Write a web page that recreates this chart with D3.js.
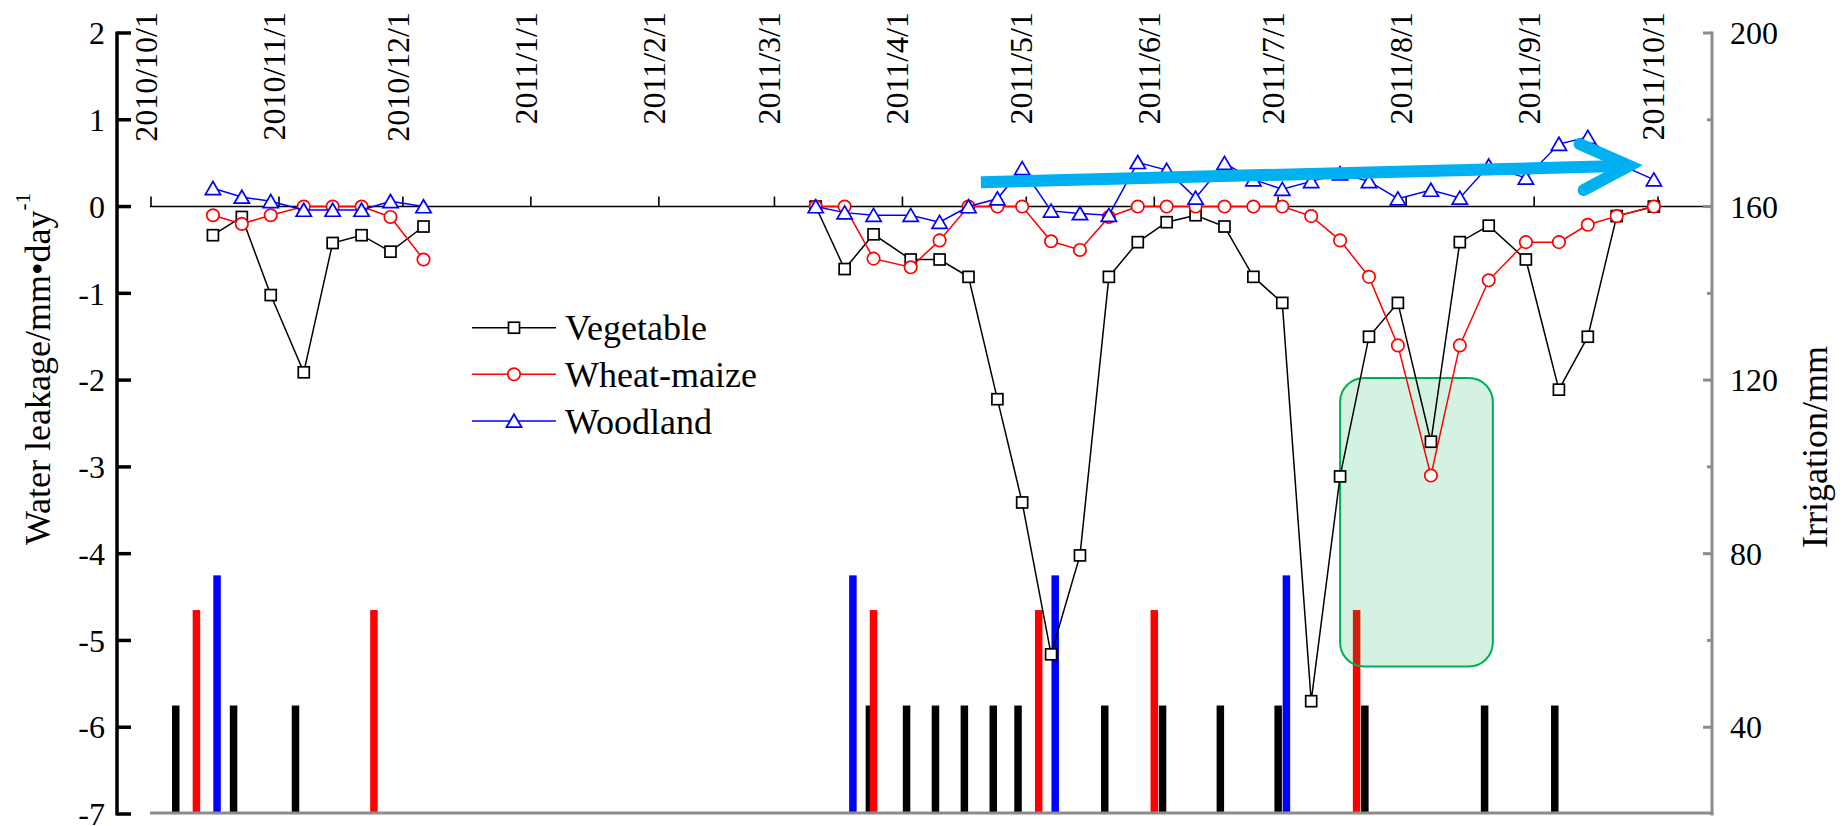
<!DOCTYPE html>
<html>
<head>
<meta charset="utf-8">
<script src="https://cdn.jsdelivr.net/npm/d3@7"></script>
<style>
  html, body { margin: 0; padding: 0; background: #fff; }
  svg { display: block; }
  text { font-family: "Liberation Serif", "Times New Roman", serif; fill: #000; }
</style>
</head>
<body>
<svg id="chart" width="1846" height="826"></svg>
<script>
// ---- data -------------------------------------------------------------
// Weekly sampling dates of the leakage measurements
const sampleDates = [
  "2010-10-16","2010-10-23","2010-10-30","2010-11-07","2010-11-14","2010-11-21","2010-11-28","2010-12-06",
  "2011-03-11","2011-03-18","2011-03-25","2011-04-03","2011-04-10","2011-04-17","2011-04-24","2011-04-30",
  "2011-05-07","2011-05-14","2011-05-21","2011-05-28","2011-06-04","2011-06-11","2011-06-18","2011-06-25",
  "2011-07-02","2011-07-09","2011-07-16","2011-07-23","2011-07-30","2011-08-07","2011-08-14","2011-08-21",
  "2011-08-30","2011-09-07","2011-09-14","2011-09-21","2011-09-30"
];

// Water leakage, mm/day
const vegetableLeak = [
  -0.33,-0.12,-1.02,-1.91,-0.42,-0.33,-0.52,-0.23,
  0,-0.72,-0.32,-0.61,-0.61,-0.81,-2.22,-3.41,-5.16,-4.02,-0.81,-0.41,-0.18,-0.10,-0.23,
  -0.81,-1.11,-5.70,-3.11,-1.50,-1.11,-2.71,-0.41,-0.22,-0.61,-2.11,-1.50,-0.11,0
];
const wheatMaizeLeak = [
  -0.10,-0.20,-0.10,0,0,0,-0.12,-0.61,
  0,0,-0.60,-0.70,-0.39,0,0,0,-0.40,-0.50,-0.12,0,0,0,0,
  0,0,-0.11,-0.39,-0.81,-1.60,-3.10,-1.60,-0.85,-0.41,-0.41,-0.21,-0.11,0
];
const woodlandLeak = [
  0.21,0.11,0.06,-0.04,-0.04,-0.04,0.06,0,
  0,-0.07,-0.10,-0.10,-0.18,0,0.09,0.44,-0.05,-0.08,-0.10,0.51,0.42,0.10,0.50,
  0.31,0.20,0.29,0.38,0.29,0.09,0.19,0.10,0.47,0.33,0.72,0.80,0.50,0.31
];

// Irrigation events (mm)
const vegetableIrrDates = ["2010-10-07","2010-10-21","2010-11-05","2011-03-24","2011-04-02","2011-04-09",
  "2011-04-16","2011-04-23","2011-04-29","2011-05-20","2011-06-03","2011-06-17","2011-07-01","2011-07-22",
  "2011-08-20","2011-09-06"];
const vegetableIrr = 45;
const wheatMaizeIrrDates = ["2010-10-12","2010-11-24","2011-03-25","2011-05-04","2011-06-01","2011-07-20"];
const wheatMaizeIrr = 67;
const woodlandIrrDates = ["2010-10-17","2011-03-20","2011-05-08","2011-07-03"];
const woodlandIrr = 75;

const seriesNames = ["Vegetable", "Wheat-maize", "Woodland"];
const leftTicks = [2, 1, 0, -1, -2, -3, -4, -5, -6, -7];
const rightTicks = [40, 80, 120, 160, 200];
const rightMinorTicks = [60, 100, 140, 180];

// highlighted period and trend arrow
const boxDates = ["2011-07-16", "2011-08-22"];
const boxIrr = [120.5, 54];
const arrowShaft = [["2011-04-20", 0.28], ["2011-09-24", 0.47]];
const arrowHead = [["2011-09-12", 0.72], ["2011-09-24", 0.47], ["2011-09-13", 0.19]];

// ---- scales -----------------------------------------------------------
const parse = d3.timeParse("%Y-%m-%d");
const x = d3.scaleTime()
  .domain([parse("2010-10-01"), parse("2011-10-01")])
  .range([151, 1658]);
const y = d3.scaleLinear().domain([-7, 2]).range([814, 33]);
const yR = d3.scaleLinear().domain([20, 200]).range([814, 33]);

const svg = d3.select("#chart");
const colors = ["#000000", "#ff0000", "#0000ff"];

// ---- irrigation bars --------------------------------------------------
const barW = 7.5;
const bars = [
  { dates: vegetableIrrDates, v: vegetableIrr, c: colors[0] },
  { dates: wheatMaizeIrrDates, v: wheatMaizeIrr, c: colors[1] },
  { dates: woodlandIrrDates, v: woodlandIrr, c: colors[2] }
];
bars.forEach(b => {
  svg.append("g").selectAll("rect").data(b.dates).join("rect")
    .attr("x", d => x(parse(d)) - barW / 2)
    .attr("width", barW)
    .attr("y", yR(b.v))
    .attr("height", yR(20) - yR(b.v))
    .attr("fill", b.c);
});

// ---- highlight box ----------------------------------------------------
svg.append("rect")
  .attr("x", x(parse(boxDates[0])))
  .attr("y", yR(boxIrr[0]))
  .attr("width", x(parse(boxDates[1])) - x(parse(boxDates[0])))
  .attr("height", yR(boxIrr[1]) - yR(boxIrr[0]))
  .attr("rx", 24).attr("ry", 24)
  .attr("fill", "rgba(0,176,80,0.17)")
  .attr("stroke", "#00b050")
  .attr("stroke-width", 2);

// ---- axes -------------------------------------------------------------
const x0 = 117, xEnd = 1712, yBottom = 813;

// bottom axis (grey)
svg.append("line").attr("x1", 150).attr("x2", xEnd + 1.5).attr("y1", yBottom).attr("y2", yBottom)
  .attr("stroke", "#8c8c8c").attr("stroke-width", 3);

// zero line with month ticks
svg.append("line").attr("x1", 150).attr("x2", xEnd).attr("y1", y(0)).attr("y2", y(0))
  .attr("stroke", "#000").attr("stroke-width", 1.6);
const months = d3.timeMonth.range(parse("2010-10-01"), parse("2011-10-02"));
svg.append("g").selectAll("line").data(months).join("line")
  .attr("x1", d => x(d)).attr("x2", d => x(d))
  .attr("y1", y(0)).attr("y2", y(0) - 10)
  .attr("stroke", "#000").attr("stroke-width", 1.6);
const fmtMonth = d3.timeFormat("%Y/%-m/%-d");
svg.append("g").selectAll("text").data(months).join("text")
  .attr("transform", d => `translate(${x(d) + 6},12) rotate(-90)`)
  .attr("text-anchor", "end")
  .attr("font-size", 32)
  .text(d => fmtMonth(d));

// left axis
svg.append("line").attr("x1", x0).attr("x2", x0).attr("y1", y(2) - 1.5).attr("y2", y(-7) + 1.5)
  .attr("stroke", "#000").attr("stroke-width", 3.5);
svg.append("g").selectAll("line").data(leftTicks).join("line")
  .attr("x1", x0).attr("x2", x0 + 14)
  .attr("y1", d => y(d)).attr("y2", d => y(d))
  .attr("stroke", "#000").attr("stroke-width", 3.5);
svg.append("g").selectAll("text").data(leftTicks).join("text")
  .attr("x", 105).attr("y", d => y(d)).attr("dy", "0.35em")
  .attr("text-anchor", "end").attr("font-size", 32)
  .text(d => d);

// right axis (grey)
svg.append("line").attr("x1", xEnd).attr("x2", xEnd).attr("y1", yR(200) - 1.5).attr("y2", yR(20) + 1.5)
  .attr("stroke", "#8c8c8c").attr("stroke-width", 3);
svg.append("g").selectAll("line").data(rightTicks).join("line")
  .attr("x1", xEnd - 9).attr("x2", xEnd)
  .attr("y1", d => yR(d)).attr("y2", d => yR(d))
  .attr("stroke", "#8c8c8c").attr("stroke-width", 3);
svg.append("g").selectAll("line").data(rightMinorTicks).join("line")
  .attr("x1", xEnd - 5).attr("x2", xEnd)
  .attr("y1", d => yR(d)).attr("y2", d => yR(d))
  .attr("stroke", "#8c8c8c").attr("stroke-width", 3);
svg.append("g").selectAll("text").data(rightTicks).join("text")
  .attr("x", 1730).attr("y", d => yR(d)).attr("dy", "0.35em")
  .attr("font-size", 32)
  .text(d => d);

// axis titles
const lt = svg.append("text")
  .attr("transform", "translate(50,545) rotate(-90)")
  .attr("font-size", 36);
lt.append("tspan").text("Water leakage/mm\u2022day");
lt.append("tspan").attr("font-size", 21).attr("dy", -20).text("-1");

svg.append("text")
  .attr("transform", "translate(1827,548) rotate(-90)")
  .attr("font-size", 36)
  .text("Irrigation/mm");

// ---- leakage series ---------------------------------------------------
const dates = sampleDates.map(parse);
function segments(vals) {
  const segs = [];
  let cur = [];
  dates.forEach((d, i) => {
    if (i > 0 && (d - dates[i - 1]) > 40 * 864e5) { segs.push(cur); cur = []; }
    cur.push([d, vals[i]]);
  });
  segs.push(cur);
  return segs;
}
const line = d3.line().x(d => x(d[0])).y(d => y(d[1]));

const sq = 11, cr = 6.2;
const triPath = "M0,-6.8L7.6,6.2L-7.6,6.2Z";

function marker(g, shape, color) {
  if (shape === 0) {
    g.append("rect").attr("x", -sq / 2).attr("y", -sq / 2).attr("width", sq).attr("height", sq)
      .attr("fill", "#fff").attr("stroke", color).attr("stroke-width", 1.7);
  } else if (shape === 1) {
    g.append("circle").attr("r", cr).attr("fill", "#fff").attr("stroke", color).attr("stroke-width", 1.7);
  } else {
    g.append("path").attr("d", triPath).attr("fill", "#fff").attr("stroke", color).attr("stroke-width", 1.7);
  }
}

const allSeries = [vegetableLeak, wheatMaizeLeak, woodlandLeak];
allSeries.forEach((vals, s) => {
  const g = svg.append("g");
  segments(vals).forEach(seg => {
    g.append("path").attr("d", line(seg)).attr("fill", "none")
      .attr("stroke", colors[s]).attr("stroke-width", 1.5);
  });
  dates.forEach((d, i) => {
    const m = g.append("g").attr("transform", `translate(${x(d)},${y(vals[i])})`);
    marker(m, s, colors[s]);
  });
});

// ---- legend -----------------------------------------------------------
const legendY = [327.7, 374.3, 421];
seriesNames.forEach((name, s) => {
  const g = svg.append("g").attr("transform", `translate(0,${legendY[s]})`);
  g.append("line").attr("x1", 472).attr("x2", 556).attr("stroke", colors[s]).attr("stroke-width", 1.5);
  const m = g.append("g").attr("transform", "translate(514,0)");
  marker(m, s, colors[s]);
  g.append("text").attr("x", 565).attr("dy", "0.35em").attr("font-size", 36).text(name);
});

// ---- trend arrow ------------------------------------------------------
const aLine = d3.line().x(d => x(parse(d[0]))).y(d => y(d[1]));
svg.append("path").attr("d", aLine(arrowShaft)).attr("fill", "none")
  .attr("stroke", "#00b0f0").attr("stroke-width", 12).attr("stroke-linecap", "butt");
svg.append("path").attr("d", aLine(arrowHead)).attr("fill", "none")
  .attr("stroke", "#00b0f0").attr("stroke-width", 12)
  .attr("stroke-linecap", "round").attr("stroke-linejoin", "miter");
</script>
</body>
</html>
